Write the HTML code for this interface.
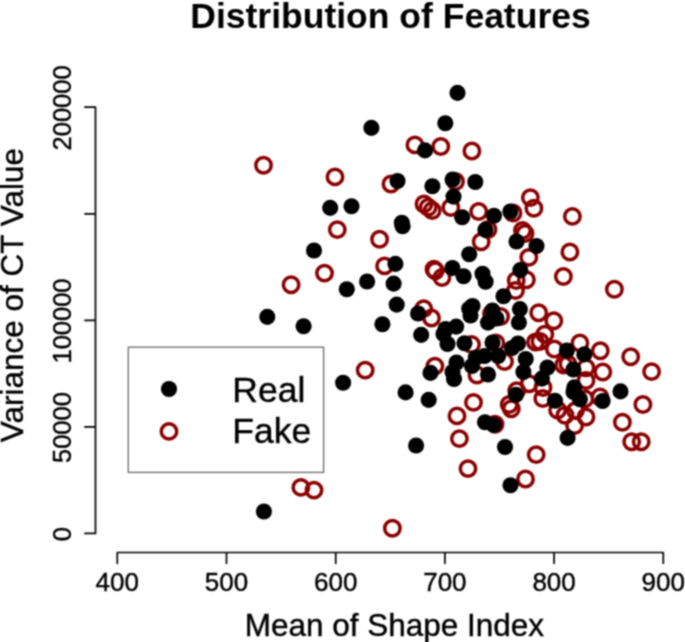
<!DOCTYPE html>
<html><head><meta charset="utf-8"><style>
html,body{margin:0;padding:0;background:#fff;}
svg{display:block;font-family:"Liberation Sans",sans-serif;}
</style></head><body>
<svg width="685" height="642" viewBox="0 0 685 642">
<defs><filter id="bl" x="0" y="0" width="685" height="642" filterUnits="userSpaceOnUse" color-interpolation-filters="sRGB"><feConvolveMatrix order="3" kernelMatrix="1 2 1 2 4 2 1 2 1" edgeMode="duplicate"/></filter></defs>
<g filter="url(#bl)">
<rect width="685" height="642" fill="#fff"/>
<text x="390.5" y="28.2" text-anchor="middle" font-weight="bold" font-size="35.5">Distribution of Features</text>
<g fill="none" stroke="#000" stroke-width="1.7" stroke-linecap="round" stroke-linejoin="round"><path d="M117.3 552.5H663.3M117.3 552.5V563.3M226.5 552.5V563.3M335.7 552.5V563.3M444.9 552.5V563.3M554.1 552.5V563.3M663.3 552.5V563.3" /><path d="M95.5 533.4V107.2M95.5 533.4H84.9M95.5 426.9H84.9M95.5 320.3H84.9M95.5 213.8H84.9M95.5 107.2H84.9" /></g>
<g stroke="#000" stroke-width="0.4">
<g font-size="26" fill="#000"><text x="117.3" y="590.6" text-anchor="middle">400</text><text x="226.5" y="590.6" text-anchor="middle">500</text><text x="335.7" y="590.6" text-anchor="middle">600</text><text x="444.9" y="590.6" text-anchor="middle">700</text><text x="554.1" y="590.6" text-anchor="middle">800</text><text x="663.3" y="590.6" text-anchor="middle">900</text></g><g font-size="25.5" fill="#000"><text transform="translate(70.6 534.1) rotate(-90)" text-anchor="middle">0</text><text transform="translate(70.6 427.6) rotate(-90)" text-anchor="middle">50000</text><text transform="translate(70.6 321) rotate(-90)" text-anchor="middle">100000</text><text transform="translate(70.6 107.9) rotate(-90)" text-anchor="middle">200000</text></g>
<text x="394.4" y="635.6" text-anchor="middle" font-size="31.5">Mean of Shape Index</text>
<text transform="translate(23.0 295.1) rotate(-90)" text-anchor="middle" font-size="31.5">Variance of CT Value</text>
</g>
<rect x="128.3" y="347.2" width="195.3" height="125.2" fill="none" stroke="#6a6a6a" stroke-width="1.3"/>
<g fill="none" stroke="#8b0000" stroke-width="3.5"><circle cx="263.5" cy="165.2" r="7.7"/><circle cx="335" cy="176.9" r="7.7"/><circle cx="414.9" cy="144.9" r="7.7"/><circle cx="440.8" cy="146.5" r="7.7"/><circle cx="471.9" cy="151" r="7.7"/><circle cx="391" cy="184" r="7.7"/><circle cx="455.5" cy="181.5" r="7.7"/><circle cx="337.3" cy="229.6" r="7.7"/><circle cx="324.5" cy="273.1" r="7.7"/><circle cx="291.1" cy="284.8" r="7.7"/><circle cx="379.6" cy="239.2" r="7.7"/><circle cx="450.8" cy="207.5" r="7.7"/><circle cx="424" cy="204" r="7.7"/><circle cx="428.2" cy="207.2" r="7.7"/><circle cx="432.2" cy="210.5" r="7.7"/><circle cx="478.7" cy="211.5" r="7.7"/><circle cx="488" cy="229.5" r="7.7"/><circle cx="481.2" cy="241.8" r="7.7"/><circle cx="513" cy="213" r="7.7"/><circle cx="530.4" cy="197.6" r="7.7"/><circle cx="533.9" cy="208.2" r="7.7"/><circle cx="522.5" cy="230.5" r="7.7"/><circle cx="525" cy="233.5" r="7.7"/><circle cx="572.4" cy="216.4" r="7.7"/><circle cx="384.6" cy="265.9" r="7.7"/><circle cx="434" cy="269.3" r="7.7"/><circle cx="435.3" cy="270.8" r="7.7"/><circle cx="442" cy="277.5" r="7.7"/><circle cx="423.7" cy="308.6" r="7.7"/><circle cx="431.5" cy="318" r="7.7"/><circle cx="528.8" cy="257.4" r="7.7"/><circle cx="516.2" cy="280.5" r="7.7"/><circle cx="526.4" cy="279.8" r="7.7"/><circle cx="515.5" cy="290.5" r="7.7"/><circle cx="538.7" cy="312.7" r="7.7"/><circle cx="500.6" cy="316.5" r="7.7"/><circle cx="569.9" cy="252" r="7.7"/><circle cx="563.4" cy="276.5" r="7.7"/><circle cx="614.4" cy="289.2" r="7.7"/><circle cx="553.8" cy="320.8" r="7.7"/><circle cx="365.2" cy="370.1" r="7.7"/><circle cx="471.5" cy="344.5" r="7.7"/><circle cx="495.9" cy="343" r="7.7"/><circle cx="504.5" cy="361.5" r="7.7"/><circle cx="477" cy="375" r="7.7"/><circle cx="434.9" cy="366.1" r="7.7"/><circle cx="544.8" cy="334.3" r="7.7"/><circle cx="535.5" cy="342" r="7.7"/><circle cx="540" cy="341.5" r="7.7"/><circle cx="554.4" cy="349" r="7.7"/><circle cx="579.9" cy="343" r="7.7"/><circle cx="600.3" cy="350.8" r="7.7"/><circle cx="563.7" cy="365" r="7.7"/><circle cx="568" cy="364" r="7.7"/><circle cx="586" cy="367.7" r="7.7"/><circle cx="602.8" cy="372" r="7.7"/><circle cx="586" cy="380.5" r="7.7"/><circle cx="630.7" cy="356.7" r="7.7"/><circle cx="651.6" cy="371.6" r="7.7"/><circle cx="600" cy="397" r="7.7"/><circle cx="642.9" cy="404.5" r="7.7"/><circle cx="622.4" cy="422.2" r="7.7"/><circle cx="631.7" cy="441.8" r="7.7"/><circle cx="641.2" cy="441.8" r="7.7"/><circle cx="473.5" cy="402.4" r="7.7"/><circle cx="457" cy="415.9" r="7.7"/><circle cx="459.4" cy="438.6" r="7.7"/><circle cx="529.2" cy="383.7" r="7.7"/><circle cx="516.7" cy="390.6" r="7.7"/><circle cx="509.2" cy="404.5" r="7.7"/><circle cx="511.3" cy="408.8" r="7.7"/><circle cx="543" cy="387.5" r="7.7"/><circle cx="542.8" cy="398.5" r="7.7"/><circle cx="495" cy="424.3" r="7.7"/><circle cx="557.6" cy="410" r="7.7"/><circle cx="565" cy="415.2" r="7.7"/><circle cx="575.4" cy="410.6" r="7.7"/><circle cx="574.6" cy="425.5" r="7.7"/><circle cx="586" cy="417" r="7.7"/><circle cx="584.9" cy="398.7" r="7.7"/><circle cx="468" cy="468.6" r="7.7"/><circle cx="536.2" cy="454.6" r="7.7"/><circle cx="525.5" cy="479" r="7.7"/><circle cx="392.4" cy="528.2" r="7.7"/><circle cx="300.9" cy="487.4" r="7.7"/><circle cx="314" cy="490.1" r="7.7"/><circle cx="491.5" cy="313.8" r="7.7"/><circle cx="169" cy="431.4" r="7.7"/></g>
<g fill="#000"><circle cx="457.5" cy="92.9" r="8.05"/><circle cx="371.4" cy="127.9" r="8.05"/><circle cx="445.3" cy="123.2" r="8.05"/><circle cx="425" cy="150.4" r="8.05"/><circle cx="397.5" cy="181" r="8.05"/><circle cx="432.4" cy="186.3" r="8.05"/><circle cx="452.6" cy="179.5" r="8.05"/><circle cx="475.3" cy="182" r="8.05"/><circle cx="330.2" cy="207.9" r="8.05"/><circle cx="351.5" cy="206.3" r="8.05"/><circle cx="314" cy="250.5" r="8.05"/><circle cx="346.8" cy="289.2" r="8.05"/><circle cx="401.8" cy="222.8" r="8.05"/><circle cx="402.6" cy="226.3" r="8.05"/><circle cx="453.5" cy="196.6" r="8.05"/><circle cx="462.2" cy="217.2" r="8.05"/><circle cx="494" cy="215.8" r="8.05"/><circle cx="485.4" cy="229.9" r="8.05"/><circle cx="510.3" cy="211.5" r="8.05"/><circle cx="516.5" cy="241.5" r="8.05"/><circle cx="536.5" cy="246" r="8.05"/><circle cx="469.2" cy="254.2" r="8.05"/><circle cx="395.4" cy="263.9" r="8.05"/><circle cx="367.1" cy="281.5" r="8.05"/><circle cx="393.6" cy="283.6" r="8.05"/><circle cx="396.7" cy="304.6" r="8.05"/><circle cx="452.4" cy="268" r="8.05"/><circle cx="463.6" cy="276.2" r="8.05"/><circle cx="418.1" cy="313.5" r="8.05"/><circle cx="472.5" cy="306" r="8.05"/><circle cx="470.5" cy="315.5" r="8.05"/><circle cx="469.2" cy="308.7" r="8.05"/><circle cx="482.5" cy="273.7" r="8.05"/><circle cx="485.6" cy="281.8" r="8.05"/><circle cx="520.3" cy="270.1" r="8.05"/><circle cx="503.5" cy="296.2" r="8.05"/><circle cx="519.9" cy="309.1" r="8.05"/><circle cx="518.9" cy="322.5" r="8.05"/><circle cx="492.4" cy="310.5" r="8.05"/><circle cx="488" cy="322.6" r="8.05"/><circle cx="496.5" cy="318.5" r="8.05"/><circle cx="267.3" cy="316.9" r="8.05"/><circle cx="303.6" cy="326.3" r="8.05"/><circle cx="382.4" cy="324.3" r="8.05"/><circle cx="343.1" cy="382.8" r="8.05"/><circle cx="421.2" cy="334.9" r="8.05"/><circle cx="456.2" cy="326.6" r="8.05"/><circle cx="445.6" cy="329" r="8.05"/><circle cx="443.5" cy="334" r="8.05"/><circle cx="447.5" cy="344" r="8.05"/><circle cx="464.5" cy="343.3" r="8.05"/><circle cx="492.5" cy="342.5" r="8.05"/><circle cx="498.1" cy="356" r="8.05"/><circle cx="475.8" cy="357.7" r="8.05"/><circle cx="472" cy="366" r="8.05"/><circle cx="488" cy="374.5" r="8.05"/><circle cx="456.5" cy="362.5" r="8.05"/><circle cx="454" cy="379" r="8.05"/><circle cx="430.5" cy="372.9" r="8.05"/><circle cx="518" cy="343.5" r="8.05"/><circle cx="525.7" cy="359" r="8.05"/><circle cx="523.4" cy="372" r="8.05"/><circle cx="547.4" cy="367.5" r="8.05"/><circle cx="541.9" cy="378.6" r="8.05"/><circle cx="566.8" cy="350.5" r="8.05"/><circle cx="584.3" cy="354.4" r="8.05"/><circle cx="573.4" cy="369.5" r="8.05"/><circle cx="574.3" cy="387.4" r="8.05"/><circle cx="579.9" cy="399.3" r="8.05"/><circle cx="555" cy="400.8" r="8.05"/><circle cx="602.6" cy="401" r="8.05"/><circle cx="620.5" cy="391.4" r="8.05"/><circle cx="567.6" cy="437.9" r="8.05"/><circle cx="405.6" cy="392.4" r="8.05"/><circle cx="428.7" cy="399.9" r="8.05"/><circle cx="416.1" cy="445.5" r="8.05"/><circle cx="515.9" cy="394.7" r="8.05"/><circle cx="485" cy="422.3" r="8.05"/><circle cx="493.7" cy="424.8" r="8.05"/><circle cx="505" cy="447" r="8.05"/><circle cx="510.5" cy="485.3" r="8.05"/><circle cx="263.9" cy="511.5" r="8.05"/><circle cx="484.5" cy="356" r="8.05"/><circle cx="452.5" cy="372" r="8.05"/><circle cx="512" cy="348" r="8.05"/><circle cx="573.5" cy="392" r="8.05"/><circle cx="169" cy="389" r="8.05"/></g>
<g stroke="#000" stroke-width="0.4"><text x="232.3" y="401.6" font-size="35.5">Real</text>
<text x="232.3" y="442.7" font-size="35.5">Fake</text></g>
</g>
</svg>
</body></html>
